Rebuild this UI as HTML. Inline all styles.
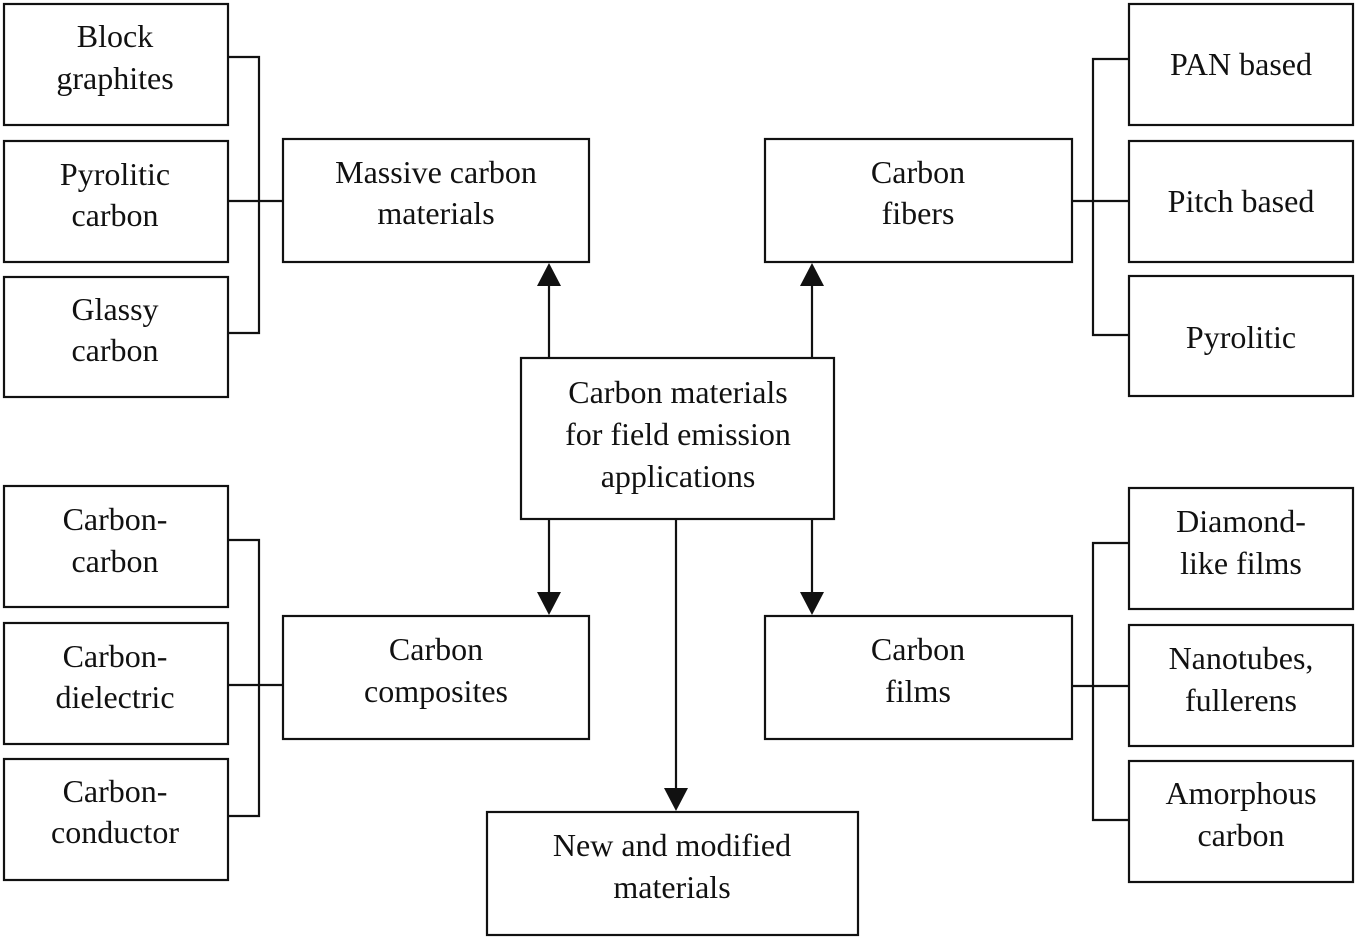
<!DOCTYPE html>
<html><head><meta charset="utf-8"><style>
html,body{margin:0;padding:0;background:#fff;width:1359px;height:939px;overflow:hidden}
svg text{font-family:"Liberation Serif",serif;font-size:32px;fill:#111;text-anchor:middle}
</style></head><body>
<svg width="1359" height="939" xmlns="http://www.w3.org/2000/svg">
<g fill="none" stroke="#111" stroke-width="2.2">
<rect x="4" y="4" width="224" height="121"/>
<rect x="4" y="141" width="224" height="121"/>
<rect x="4" y="277" width="224" height="120"/>
<rect x="4" y="486" width="224" height="121"/>
<rect x="4" y="623" width="224" height="121"/>
<rect x="4" y="759" width="224" height="121"/>
<rect x="1129" y="4" width="224" height="121"/>
<rect x="1129" y="141" width="224" height="121"/>
<rect x="1129" y="276" width="224" height="120"/>
<rect x="1129" y="488" width="224" height="121"/>
<rect x="1129" y="625" width="224" height="121"/>
<rect x="1129" y="761" width="224" height="121"/>
<rect x="283" y="139" width="306" height="123"/>
<rect x="765" y="139" width="307" height="123"/>
<rect x="521" y="358" width="313" height="161"/>
<rect x="283" y="616" width="306" height="123"/>
<rect x="765" y="616" width="307" height="123"/>
<rect x="487" y="812" width="371" height="123"/>
<path d="M228 57H259V333H228M228 201H283"/>
<path d="M1129 59H1093V335H1129M1072 201H1129"/>
<path d="M228 540H259V816H228M228 685H283"/>
<path d="M1129 543H1093V820H1129M1072 686H1129"/>
<path d="M549 358V285M812 358V285M549 519V593M812 519V593M676 519V789"/>
</g>
<g fill="#111">
<path d="M537 286L549 263L561 286Z"/>
<path d="M800 286L812 263L824 286Z"/>
<path d="M537 592L549 615L561 592Z"/>
<path d="M800 592L812 615L824 592Z"/>
<path d="M664 788L676 811L688 788Z"/>
</g>
<text x="115" y="47">Block</text><text x="115" y="89">graphites</text>
<text x="115" y="185">Pyrolitic</text><text x="115" y="226">carbon</text>
<text x="115" y="320">Glassy</text><text x="115" y="361">carbon</text>
<text x="115" y="530">Carbon-</text><text x="115" y="572">carbon</text>
<text x="115" y="667">Carbon-</text><text x="115" y="708">dielectric</text>
<text x="115" y="802">Carbon-</text><text x="115" y="843">conductor</text>
<text x="1241" y="75">PAN based</text>
<text x="1241" y="212">Pitch based</text>
<text x="1241" y="348">Pyrolitic</text>
<text x="1241" y="532">Diamond-</text><text x="1241" y="574">like films</text>
<text x="1241" y="669">Nanotubes,</text><text x="1241" y="711">fullerens</text>
<text x="1241" y="804">Amorphous</text><text x="1241" y="846">carbon</text>
<text x="436" y="183">Massive carbon</text><text x="436" y="224">materials</text>
<text x="918" y="183">Carbon</text><text x="918" y="224">fibers</text>
<text x="678" y="403">Carbon materials</text><text x="678" y="445">for field emission</text><text x="678" y="487">applications</text>
<text x="436" y="660">Carbon</text><text x="436" y="702">composites</text>
<text x="918" y="660">Carbon</text><text x="918" y="702">films</text>
<text x="672" y="856">New and modified</text><text x="672" y="898">materials</text>
</svg>
</body></html>
